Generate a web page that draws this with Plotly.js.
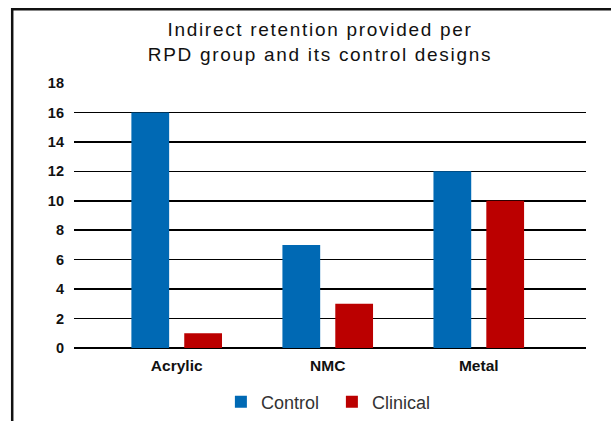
<!DOCTYPE html>
<html>
<head>
<meta charset="utf-8">
<script src="https://cdn.plot.ly/plotly-3.0.1.min.js"></script>
<style>
  html, body { margin: 0; padding: 0; background: #fff; }
  #chart { width: 611px; height: 421px; }
  #chart .gtitle { letter-spacing: 1.7px; }
</style>
</head>
<body>
<div id="chart"></div>
<script>
const categories = ["Acrylic", "NMC", "Metal"];
const controlValues = [16, 7, 12];
const clinicalValues = [1, 3, 10];
const seriesNames = ["Control", "Clinical"];
const yTicks = [0, 2, 4, 6, 8, 10, 12, 14, 16, 18];
const titleText = "Indirect retention provided per<br>RPD group and its control designs";

const FONT = "'Liberation Sans', Arial, Helvetica, sans-serif";

const traces = [
  {
    type: "bar", name: seriesNames[0], x: categories, y: controlValues,
    marker: { color: "#0069b4" }, width: 0.25, offset: -0.30
  },
  {
    type: "bar", name: seriesNames[1], x: categories, y: clinicalValues,
    marker: { color: "#bb0000" }, width: 0.25, offset: 0.05
  }
];

const layout = {
  width: 611, height: 421,
  margin: { l: 74, r: 25, t: 83, b: 73, pad: 0, autoexpand: false },
  paper_bgcolor: "#fff", plot_bgcolor: "#fff",
  font: { family: FONT, color: "#111" },
  title: {
    text: titleText,
    font: { family: FONT, size: 19, color: "#111" },
    xref: "container", x: 320 / 611, xanchor: "center",
    y: 1 - 36 / 421, yanchor: "middle"
  },
  showlegend: true,
  legend: {
    orientation: "h", x: 0.5037, xanchor: "center",
    yref: "container", y: (421 - 402) / 421, yanchor: "middle",
    font: { family: FONT, size: 18, color: "#333" },
    itemwidth: 30, entrywidth: 66, traceorder: "normal"
  },
  xaxis: {
    type: "category",
    range: [-0.68, 2.71],
    showgrid: false, zeroline: false, showline: false,
    ticks: "", ticklabelstandoff: 6,
    tickfont: { family: FONT, size: 15.5, color: "#111", weight: "bold" },
    automargin: false, fixedrange: true
  },
  yaxis: {
    range: [0, 18],
    tickvals: yTicks,
    showgrid: true, gridcolor: "#000", gridwidth: 1.5,
    zeroline: true, zerolinecolor: "#000", zerolinewidth: 1.5,
    showline: false, ticks: "",
    ticklabelstandoff: 9,
    tickfont: { family: FONT, size: 14.5, color: "#111", weight: "bold" },
    automargin: false, fixedrange: true
  },
  shapes: [
    { type: "line", xref: "paper", yref: "paper",
      x0: (12 - 74) / 512, x1: (620 - 74) / 512,
      y0: (348 - 9.3) / 265, y1: (348 - 9.3) / 265,
      line: { color: "#111", width: 2.5 } },
    { type: "line", xref: "paper", yref: "paper",
      x0: (12.2 - 74) / 512, x1: (12.2 - 74) / 512,
      y0: (348 - 8) / 265, y1: (348 - 430) / 265,
      line: { color: "#111", width: 2.5 } }
  ]
};

Plotly.newPlot("chart", traces, layout, { displayModeBar: false, staticPlot: true });
</script>
</body>
</html>
